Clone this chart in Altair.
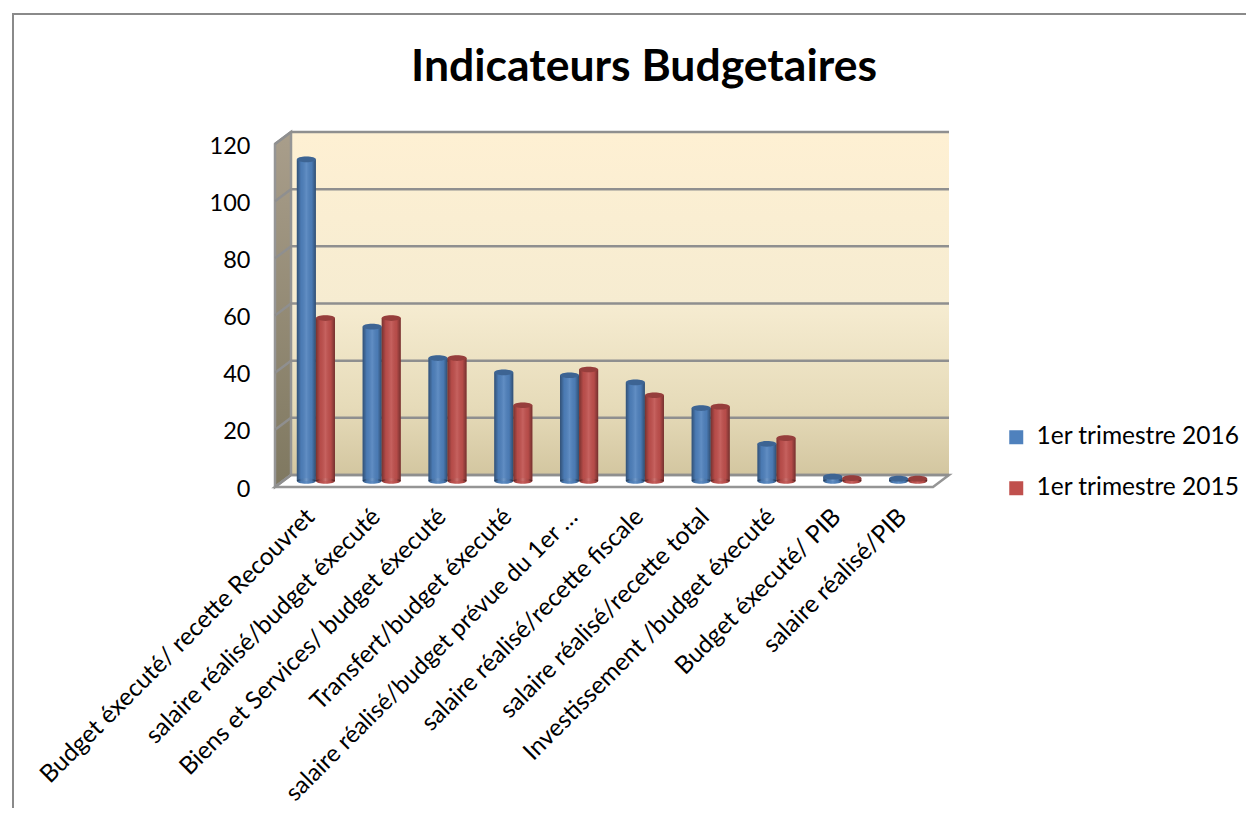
import altair as alt
import pandas as pd

categories = [
    "Budget éxecuté/ recette Recouvret",
    "salaire réalisé/budget éxecuté",
    "Biens et Services/ budget éxecuté",
    "Transfert/budget éxecuté",
    "salaire réalisé/budget prévue du 1er …",
    "salaire réalisé/recette fiscale",
    "salaire réalisé/recette total",
    "Investissement /budget éxecuté",
    "Budget éxecuté/ PIB",
    "salaire réalisé/PIB",
]
values_2016 = [112.5, 54, 43, 38, 37, 34.5, 25.5, 13, 1.5, 0.8]
values_2015 = [57, 57, 43, 26.5, 39, 30, 26, 15, 1, 0.8]
series = ["1er trimestre 2016", "1er trimestre 2015"]
colors = ["#4F81BD", "#C0504D"]
y_ticks = [0, 20, 40, 60, 80, 100, 120]
title_text = "Indicateurs Budgetaires"

FONT = "Lato"
W, H = 658, 343
DX, DY = 16, -12
ZOFF = -6

df = pd.DataFrame(
    [{"cat": c, "series": series[0], "v": v} for c, v in zip(categories, values_2016)]
    + [{"cat": c, "series": series[1], "v": v} for c, v in zip(categories, values_2015)]
)
ticks_df = pd.DataFrame({"t": y_ticks})

x_enc = alt.X(
    "cat:N",
    sort=categories,
    title=None,
    scale=alt.Scale(type="band", range=[8, 666], paddingInner=0.42, paddingOuter=0.21),
    axis=alt.Axis(
        labelAngle=-45, labelAlign="right", labelBaseline="middle", labelFont=FONT,
        labelFontSize={"condition": {"test": "indexof(datum.label,'prévue')>=0", "value": 24}, "value": 24.5},
        labelColor="#000000", labelLimit=600, labelPadding=26,
        labelOffset=-5, domain=False, ticks=False, grid=False,
    ),
)
xo_enc = alt.XOffset("series:N", sort=series, scale=alt.Scale(paddingInner=0, paddingOuter=0))
y_scale = alt.Scale(domain=[0, 120], range=[H, 0], nice=False)
y_enc = alt.Y(
    "v:Q", title=None, scale=y_scale,
    axis=alt.Axis(
        values=y_ticks, labelFont=FONT, labelFontSize=23.5, labelColor="#000000",
        labelPadding=25, labelOffset=2, domain=False, ticks=False, grid=False,
    ),
)
col_enc = alt.Color(
    "series:N",
    scale=alt.Scale(domain=series, range=colors),
    legend=alt.Legend(
        title=None, orient="none", legendX=729, legendY=281, symbolType="square",
        symbolSize=196, labelFont=FONT, labelFontSize=24.5, labelColor="#000000",
        rowPadding=26, labelOffset=8, symbolStrokeWidth=0, labelLimit=400,
    ),
)

one = ticks_df.head(1)

wall = alt.Chart(one).mark_rect(
    fill=alt.Gradient(
        gradient="linear", x1=0, x2=0, y1=0, y2=1,
        stops=[
            alt.GradientStop(offset=0, color="#fef0d3"),
            alt.GradientStop(offset=0.5, color="#f6ecd1"),
            alt.GradientStop(offset=0.8, color="#e6dbb9"),
            alt.GradientStop(offset=1, color="#d3c6a0"),
        ],
    )
).encode(
    x=alt.value(DX), x2=alt.value(W + DX),
    y=alt.value(DY), y2=alt.value(H + DY),
)

side = alt.Chart(one).mark_point(
    shape=f"M0,0L{DX},{DY}L{DX},{H + DY}L0,{H}Z", size=4, filled=True, opacity=1,
    fill=alt.Gradient(
        gradient="linear", x1=0, x2=0, y1=0, y2=1,
        stops=[
            alt.GradientStop(offset=0, color="#a99e8b"),
            alt.GradientStop(offset=1, color="#7f7860"),
        ],
    ),
    stroke="#959595", strokeWidth=2.5,
).encode(x=alt.value(0), y=alt.value(0))

floor = alt.Chart(pd.DataFrame({"t": [0]})).mark_point(
    shape=f"M0,0L{DX},{DY}L{W + DX},{DY}L{W},0Z", size=4, filled=True, opacity=1,
    fill="#ffffff", stroke="#959595", strokeWidth=2.5,
).encode(x=alt.value(0), y=alt.Y("t:Q", scale=y_scale, title=None))

grid = alt.Chart(ticks_df).mark_point(
    shape=f"M0,0L{DX},{DY}L{W + DX},{DY}", size=4, filled=False, opacity=1,
    fill=None, stroke="#8f8f8f", strokeWidth=2.5,
).encode(x=alt.value(0), y=alt.Y("t:Q", scale=y_scale, title=None))

border = alt.Chart(one).mark_point(
    shape="M-262,664L-262,-130L971,-130", size=4, filled=False, opacity=1,
    stroke="#8a8a8a", strokeWidth=2,
).encode(x=alt.value(0), y=alt.value(0))

title = alt.Chart(one).mark_text(
    text=title_text, font=FONT, fontSize=44.5, fontWeight="bold", color="#000000",
    align="center", baseline="alphabetic",
).encode(x=alt.value(369), y=alt.value(-63))

ELLIPSE = "M-1,0A1,0.3,0,1,0,1,0A1,0.3,0,1,0,-1,0Z"
shade = alt.Gradient(
    gradient="linear", x1=0, x2=1, y1=0, y2=0,
    stops=[
        alt.GradientStop(offset=0, color="rgba(0,0,0,0.38)"),
        alt.GradientStop(offset=0.22, color="rgba(0,0,0,0.05)"),
        alt.GradientStop(offset=0.5, color="rgba(255,255,255,0.1)"),
        alt.GradientStop(offset=0.78, color="rgba(0,0,0,0.05)"),
        alt.GradientStop(offset=1, color="rgba(0,0,0,0.4)"),
    ],
)

base = alt.Chart(df).encode(x=x_enc, xOffset=xo_enc)

bottom = base.mark_point(
    shape=ELLIPSE, size=361, filled=True, opacity=1, yOffset=ZOFF, strokeWidth=0
).encode(y=alt.Y(datum=0, scale=y_scale, title=None), color=col_enc)
bars = base.mark_bar(yOffset=ZOFF, y2Offset=ZOFF).encode(
    y=y_enc, y2=alt.Y2(datum=0), color=col_enc
)
bars_shade = base.mark_bar(yOffset=ZOFF, y2Offset=ZOFF, fill=shade).encode(
    y=alt.Y("v:Q", scale=y_scale, title=None), y2=alt.Y2(datum=0)
)
bottom_shade = base.mark_point(
    shape=ELLIPSE, size=361, filled=True, opacity=1, yOffset=ZOFF, strokeWidth=0, fill=shade
).encode(y=alt.Y(datum=0, scale=y_scale, title=None))
cap = base.mark_point(
    shape=ELLIPSE, size=361, filled=True, opacity=1, yOffset=ZOFF, strokeWidth=0
).encode(y=alt.Y("v:Q", scale=y_scale, title=None), color=col_enc)
cap_dark = base.mark_point(
    shape=ELLIPSE, size=361, filled=True, opacity=0.22, yOffset=ZOFF, strokeWidth=0, fill="#000000"
).encode(y=alt.Y("v:Q", scale=y_scale, title=None))

chart = (
    alt.layer(
        border, title, wall, side, floor, grid, bottom, bars, bottom_shade, bars_shade, cap, cap_dark
    )
    .properties(
        width=W,
        height=H,
        autosize=alt.AutoSizeParams(type="none"),
        padding={"left": 267, "top": 136, "right": 313, "bottom": 321},
        background="#ffffff",
    )
    .configure_view(stroke=None)
)
chart.save("out.html", embed_options={"renderer": "svg", "actions": False})
